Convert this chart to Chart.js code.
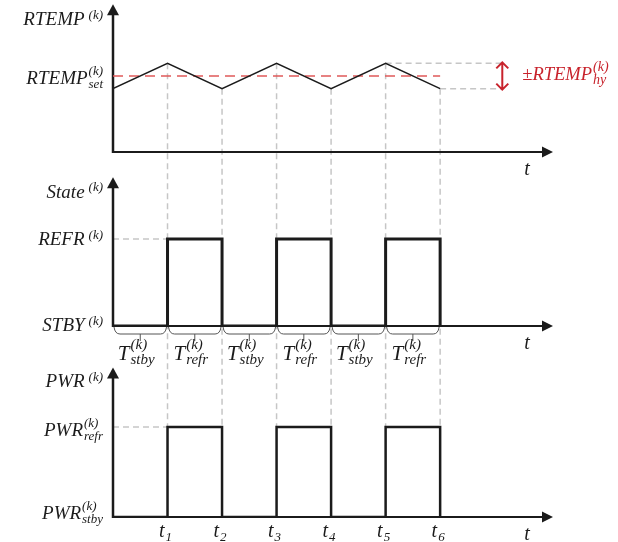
<!DOCTYPE html>
<html>
<head>
<meta charset="utf-8">
<script src="https://cdn.jsdelivr.net/npm/chart.js@4"></script>
<style>
  body { margin: 0; background: #fff; }
  canvas { display: block; }
</style>
</head>
<body>
<canvas id="timing" width="618" height="542"></canvas>
<script>
// time instants: t0 (origin) .. t6
const times = [0, 1, 2, 3, 4, 5, 6];
const tickTimes = [1, 2, 3, 4, 5, 6];
const tickSubs = ['1', '2', '3', '4', '5', '6'];

// room temperature (triangle around the set point)
const rtempValues = [5, 7, 5, 7, 5, 7, 5];
const rtempSet = 6;
const rtempHy = 1;

// state: 0 = STBY, 1 = REFR ; power: 0 = PWR stby, 1 = PWR refr
const stateValues = [0, 1, 0, 1, 0, 1, 0];
const pwrValues = [0, 1, 0, 1, 0, 1, 0];
const intervalNames = ['stby', 'refr', 'stby', 'refr', 'stby', 'refr'];

const FONT = '"Liberation Serif", "DejaVu Serif", serif';
const INK = '#1b1b1b';
const GUIDE = '#c6c6c6';
const RED = '#c8232c';

// draws base + optional subscript / superscript
function mathText(ctx, o) {
  const size = o.size || 19;
  const small = o.small || Math.round(size * 0.68);
  ctx.font = `italic ${size}px ${FONT}`;
  const bw = ctx.measureText(o.base).width;
  ctx.font = `italic ${small}px ${FONT}`;
  const subW = o.sub ? ctx.measureText(o.sub).width : 0;
  const supW = o.sup ? ctx.measureText(o.sup).width : 0;
  const gap = o.sub ? 1 : 4;
  const total = bw + gap + Math.max(subW, supW);
  let x0 = o.x;
  if (o.align === 'right') x0 = o.x - total;
  if (o.align === 'center') x0 = o.x - total / 2;
  const base = o.y + size * 0.33;
  ctx.fillStyle = o.color || INK;
  ctx.textAlign = 'left';
  ctx.textBaseline = 'alphabetic';
  ctx.font = `italic ${size}px ${FONT}`;
  ctx.fillText(o.base, x0, base);
  ctx.font = `italic ${small}px ${FONT}`;
  if (o.sup) ctx.fillText(o.sup, x0 + bw + gap, base - (o.sub ? size * 0.5 : size * 0.32));
  if (o.sub) ctx.fillText(o.sub, x0 + bw + gap, base + size * 0.2);
}

function arrowUp(ctx, x, y) {
  ctx.beginPath();
  ctx.moveTo(x, y);
  ctx.lineTo(x - 6, y + 11);
  ctx.lineTo(x + 6, y + 11);
  ctx.closePath();
  ctx.fill();
}

function arrowRight(ctx, x, y) {
  ctx.beginPath();
  ctx.moveTo(x, y);
  ctx.lineTo(x - 11, y - 5.5);
  ctx.lineTo(x - 11, y + 5.5);
  ctx.closePath();
  ctx.fill();
}

const diagram = {
  id: 'diagram',
  beforeDatasetsDraw(chart) {
    const ctx = chart.ctx;
    const { x, yTemp, yState, yPwr } = chart.scales;
    ctx.save();

    // dashed grey guides
    ctx.strokeStyle = GUIDE;
    ctx.lineWidth = 1.5;
    ctx.setLineDash([6, 4]);
    ctx.beginPath();
    tickTimes.forEach((t, i) => {
      const px = x.getPixelForValue(t);
      ctx.moveTo(px, yTemp.getPixelForValue(rtempValues[i + 1]));
      ctx.lineTo(px, yPwr.getPixelForValue(1));
    });
    ctx.moveTo(x.getPixelForValue(0), yState.getPixelForValue(1));
    ctx.lineTo(x.getPixelForValue(tickTimes[0]), yState.getPixelForValue(1));
    ctx.moveTo(x.getPixelForValue(0), yPwr.getPixelForValue(1));
    ctx.lineTo(x.getPixelForValue(tickTimes[0]), yPwr.getPixelForValue(1));
    const hx = x.getPixelForValue(7.14);
    ctx.moveTo(x.getPixelForValue(5), yTemp.getPixelForValue(rtempSet + rtempHy));
    ctx.lineTo(hx, yTemp.getPixelForValue(rtempSet + rtempHy));
    ctx.moveTo(x.getPixelForValue(6), yTemp.getPixelForValue(rtempSet - rtempHy));
    ctx.lineTo(hx, yTemp.getPixelForValue(rtempSet - rtempHy));
    ctx.stroke();
    ctx.setLineDash([]);

    // axes with arrows
    const x0 = x.getPixelForValue(0);
    const xEnd = chart.chartArea.right;
    ctx.strokeStyle = INK;
    ctx.fillStyle = INK;
    [[yTemp, 11.67], [yState, 1.71], [yPwr, 1.66]].forEach(([s, top]) => {
      const yb = s.getPixelForValue(0);
      const yt = s.getPixelForValue(top);
      ctx.lineWidth = 2.5;
      ctx.beginPath();
      ctx.moveTo(x0, yb + 1);
      ctx.lineTo(x0, yt + 8);
      ctx.stroke();
      arrowUp(ctx, x0, yt);
      ctx.lineWidth = 2;
      ctx.beginPath();
      ctx.moveTo(x0, yb);
      ctx.lineTo(xEnd - 8, yb);
      ctx.stroke();
      arrowRight(ctx, xEnd, yb);
      mathText(ctx, { base: 't', x: xEnd - 24, y: yb + 16, align: 'center', size: 20 });
    });
    ctx.restore();
  },
  afterDatasetsDraw(chart) {
    const ctx = chart.ctx;
    const { x, yTemp, yState, yPwr } = chart.scales;
    ctx.save();
    const lx = x.getPixelForValue(0) - 10;

    // left labels
    mathText(ctx, { base: 'RTEMP', sup: '(k)', x: lx, y: yTemp.getPixelForValue(11.67) + 15, align: 'right' });
    mathText(ctx, { base: 'RTEMP', sup: '(k)', sub: 'set', x: lx, y: yTemp.getPixelForValue(rtempSet) + 2, align: 'right' });
    mathText(ctx, { base: 'State', sup: '(k)', x: lx, y: yState.getPixelForValue(1.71) + 14, align: 'right' });
    mathText(ctx, { base: 'REFR', sup: '(k)', x: lx, y: yState.getPixelForValue(1), align: 'right' });
    mathText(ctx, { base: 'STBY', sup: '(k)', x: lx, y: yState.getPixelForValue(0) - 1, align: 'right' });
    mathText(ctx, { base: 'PWR', sup: '(k)', x: lx, y: yPwr.getPixelForValue(1.66) + 13, align: 'right' });
    mathText(ctx, { base: 'PWR', sup: '(k)', sub: 'refr', x: lx, y: yPwr.getPixelForValue(1) + 3, align: 'right' });
    mathText(ctx, { base: 'PWR', sup: '(k)', sub: 'stby', x: lx, y: yPwr.getPixelForValue(0) - 4, align: 'right' });

    // t_k labels under bottom axis
    tickTimes.forEach((t, i) => {
      mathText(ctx, { base: 't', sub: tickSubs[i], x: x.getPixelForValue(t) - 2, y: yPwr.getPixelForValue(0) + 13, align: 'center', size: 20, small: 13 });
    });

    // braces + interval labels
    const y0 = yState.getPixelForValue(0) + 1;
    ctx.strokeStyle = '#555';
    ctx.lineWidth = 1;
    intervalNames.forEach((name, i) => {
      const xa = x.getPixelForValue(times[i]);
      const xb = x.getPixelForValue(times[i + 1]);
      const xm = (xa + xb) / 2;
      ctx.beginPath();
      ctx.moveTo(xa + 1, y0);
      ctx.quadraticCurveTo(xa + 2, y0 + 7, xa + 7, y0 + 7);
      ctx.lineTo(xb - 7, y0 + 7);
      ctx.quadraticCurveTo(xb - 2, y0 + 7, xb - 1, y0);
      ctx.moveTo(xm, y0 + 7);
      ctx.lineTo(xm, y0 + 14);
      ctx.stroke();
      mathText(ctx, { base: 'T', sup: '(k)', sub: name, x: xm - 4, y: y0 + 26, align: 'center', size: 21, small: 15 });
    });

    // hysteresis double arrow + label
    const hx = x.getPixelForValue(7.14);
    const ya = yTemp.getPixelForValue(rtempSet + rtempHy) - 1;
    const yb = yTemp.getPixelForValue(rtempSet - rtempHy) + 1;
    ctx.strokeStyle = RED;
    ctx.lineWidth = 2;
    ctx.beginPath();
    ctx.moveTo(hx, ya);
    ctx.lineTo(hx, yb);
    ctx.moveTo(hx - 6, ya + 6);
    ctx.lineTo(hx, ya);
    ctx.lineTo(hx + 6, ya + 6);
    ctx.moveTo(hx - 6, yb - 6);
    ctx.lineTo(hx, yb);
    ctx.lineTo(hx + 6, yb - 6);
    ctx.stroke();
    mathText(ctx, { base: '\u00b1RTEMP', sup: '(k)', sub: 'hy', x: hx + 20, y: yTemp.getPixelForValue(rtempSet) - 2, color: RED, size: 18.5, small: 14 });
    ctx.restore();
  }
};

const hiddenAxis = {
  type: 'linear',
  position: 'left',
  stack: 'panels',
  ticks: { display: false },
  grid: { display: false, drawTicks: false },
  border: { display: false }
};

const pts = (xs, ys) => xs.map((t, i) => ({ x: t, y: ys[i] }));

new Chart(document.getElementById('timing'), {
  type: 'line',
  data: {
    datasets: [
      { label: 'RTEMP', data: pts(times, rtempValues), yAxisID: 'yTemp', borderColor: INK, borderWidth: 1.5, pointRadius: 0 },
      { label: 'RTEMP set', data: pts([times[0], times[times.length - 1]], [rtempSet, rtempSet]), yAxisID: 'yTemp', borderColor: '#e05a5a', borderWidth: 1.5, borderDash: [10, 6], pointRadius: 0 },
      { label: 'State', data: pts(times, stateValues), yAxisID: 'yState', borderColor: INK, borderWidth: 3, stepped: 'before', pointRadius: 0 },
      { label: 'PWR', data: pts(times, pwrValues), yAxisID: 'yPwr', borderColor: INK, borderWidth: 2.5, stepped: 'before', pointRadius: 0 }
    ]
  },
  options: {
    responsive: false,
    animation: false,
    layout: { padding: { left: 113, right: 65, top: 0, bottom: 25 } },
    plugins: { legend: { display: false }, tooltip: { enabled: false } },
    scales: {
      x: { type: 'linear', min: 0, max: 8.07, display: false },
      yPwr: { ...hiddenAxis, stackWeight: 191, min: 0, max: 2.12 },
      yState: { ...hiddenAxis, stackWeight: 174, min: 0, max: 2 },
      yTemp: { ...hiddenAxis, stackWeight: 152, min: 0, max: 12 }
    }
  },
  plugins: [diagram]
});
</script>
</body>
</html>
